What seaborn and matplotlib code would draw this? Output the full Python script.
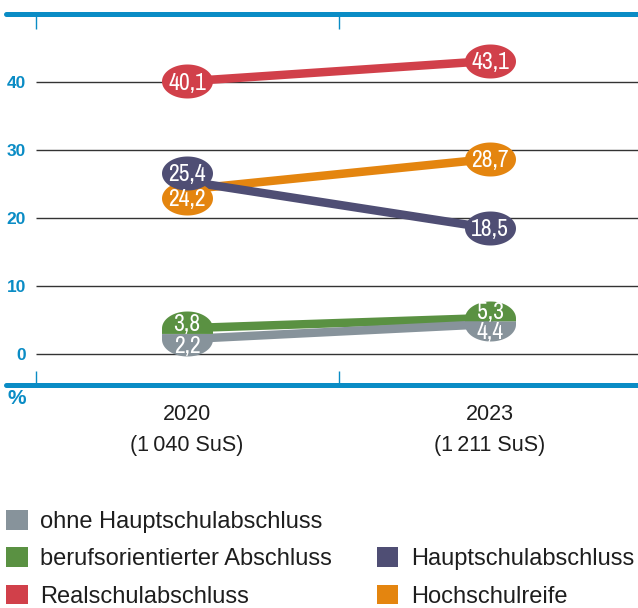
import numpy as np
import pandas as pd
import matplotlib
matplotlib.use("Agg")
import matplotlib.pyplot as plt
import seaborn as sns
from matplotlib.path import Path
from matplotlib.patches import Patch
from matplotlib.transforms import offset_copy, blended_transform_factory
from matplotlib import font_manager as fm

# ---------------- data ----------------
years = ["2020", "2023"]
sus_labels = ["(1\u2009040 SuS)", "(1\u2009211 SuS)"]
categories = ["ohne Hauptschulabschluss", "berufsorientierter Abschluss",
              "Hauptschulabschluss", "Realschulabschluss", "Hochschulreife"]
ohne_hs = [2.2, 4.4]
berufsorientiert = [3.8, 5.3]
hauptschule = [25.4, 18.5]
realschule = [40.1, 43.1]
hochschulreife = [24.2, 28.7]
y_ticks = [0, 10, 20, 30, 40]

values = {
    "ohne Hauptschulabschluss": ohne_hs,
    "berufsorientierter Abschluss": berufsorientiert,
    "Hauptschulabschluss": hauptschule,
    "Realschulabschluss": realschule,
    "Hochschulreife": hochschulreife,
}
colors = {
    "ohne Hauptschulabschluss": "#87939b",
    "berufsorientierter Abschluss": "#5a9142",
    "Hauptschulabschluss": "#4f4e74",
    "Realschulabschluss": "#d1404a",
    "Hochschulreife": "#e4850f",
}
BLUE = "#0a8cc5"

rows = []
for c in categories:
    for i, y in enumerate(years):
        rows.append({"cat": c, "pos": i, "year": y, "value": values[c][i]})
df = pd.DataFrame(rows)

# ---------------- style ----------------
sns.set_style("white")
families = {f.name for f in fm.fontManager.ttflist}
NARROW = "DejaVu Sans"
for cand in ["Archivo Narrow", "Barlow Semi Condensed", "Encode Sans Condensed",
             "Asap Condensed"]:
    if cand in families:
        NARROW = cand
        break
SANS = "Liberation Sans" if "Liberation Sans" in families else "DejaVu Sans"
plt.rcParams["font.family"] = [SANS, "DejaVu Sans"]

W, H = 638, 608
fig = plt.figure(figsize=(W / 100, H / 100), dpi=100)
ax = fig.add_axes([0, 1 - 400 / H, 1, 400 / H])
px_per_unit = 6.8
PT = 0.72  # points per pixel

# lines
hue_order = ["Hochschulreife", "Hauptschulabschluss", "Realschulabschluss",
             "berufsorientierter Abschluss", "ohne Hauptschulabschluss"]
sns.lineplot(data=df, x="pos", y="value", hue="cat", hue_order=hue_order,
             palette=colors, lw=8.5 * PT, legend=False, ax=ax, zorder=3,
             estimator=None, sort=False)
ax.set_xlim(-187 / 303, (W - 187) / 303)
ax.set_ylim((354 - 400) / px_per_unit, 354 / px_per_unit)
ax.set_xlabel("")
ax.set_ylabel("")
for s in ax.spines.values():
    s.set_visible(False)

# frame lines
top_v, bot_v = 50, -4.5
ax.axhline(top_v, xmin=6 / W, color=BLUE, lw=5 * PT, zorder=1)
ax.axhline(bot_v, xmin=6 / W, color=BLUE, lw=5 * PT, zorder=1)
bounds = [-0.5, 0.5, 1.5]
ax.vlines(bounds, top_v - 15 / px_per_unit, top_v, color=BLUE, lw=1.0, zorder=1)
ax.vlines(bounds, bot_v, bot_v + 14 / px_per_unit, color=BLUE, lw=1.0, zorder=1)
ax.hlines(y_ticks, -0.5, ax.get_xlim()[1], color="#333333", lw=1.0, zorder=1)

# y ticks
ax.set_yticks(y_ticks)
ax.set_yticklabels([str(t) for t in y_ticks])
ax.tick_params(axis="y", length=0, pad=-26 * PT, labelsize=12.5, labelcolor=BLUE)
for lab in ax.get_yticklabels():
    lab.set_fontweight("bold")
    lab.set_horizontalalignment("right")
ax.set_xticks([])

# ---------------- label ellipses ----------------
EW, EH = 51.0, 34.0
ry = (EH / 2) / EW
t_full = np.linspace(0, 2 * np.pi, 121)
t_top = np.linspace(0, np.pi, 61)
t_bot = np.linspace(np.pi, 2 * np.pi, 61)


def full_ellipse():
    v = np.column_stack([0.5 * np.cos(t_full), ry * np.sin(t_full)])
    return Path(v, closed=True)


def top_half(ext):
    arc = np.column_stack([0.5 * np.cos(t_top), ry * np.sin(t_top)])
    v = np.vstack([arc, [[-0.5, -ext], [0.5, -ext], [0.5, 0]]])
    return Path(v, closed=True)


def bottom_half(ext):
    arc = np.column_stack([0.5 * np.cos(t_bot), ry * np.sin(t_bot)])
    v = np.vstack([arc, [[0.5, ext], [-0.5, ext], [-0.5, 0]]])
    return Path(v, closed=True)


S = (EW * PT) ** 2
NUM_FS = 17
cap_off = -0.35 * NUM_FS


def fmt(v):
    return f"{v:.1f}".replace(".", ",")


def put_label(x, y, marker, color, dy_marker_px, dy_text_px):
    tr = offset_copy(ax.transData, fig=fig, x=0, y=dy_marker_px * PT, units="points")
    ax.scatter([x], [y], s=S, marker=marker, color=color, linewidths=0,
               transform=tr, zorder=5)
    trt = offset_copy(ax.transData, fig=fig, x=0, y=dy_text_px * PT + cap_off,
                      units="points")
    ax.text(x, y, fmt(y), transform=trt, ha="center", va="baseline",
            color="white", fontsize=NUM_FS, fontweight="bold",
            family=[NARROW, "DejaVu Sans"], zorder=6)


split_pair = ("berufsorientierter Abschluss", "ohne Hauptschulabschluss")
for i in range(len(years)):
    up_c, lo_c = split_pair
    vu, vl = values[up_c][i], values[lo_c][i]
    gap_px = (vu - vl) * px_per_unit
    ext = (gap_px / 2) / EW
    txt_shift = (EH / 2 - gap_px / 2) / 2
    put_label(i, vu, top_half(ext), colors[up_c], 0, txt_shift)
    put_label(i, vl, bottom_half(ext), colors[lo_c], 0, -txt_shift)

    rest = ["Hochschulreife", "Hauptschulabschluss", "Realschulabschluss"]
    rest_sorted = sorted(rest, key=lambda c: values[c][i])
    done = set()
    for a, b in zip(rest_sorted[:-1], rest_sorted[1:]):
        va_, vb_ = values[a][i], values[b][i]
        if (vb_ - va_) * px_per_unit < 25:
            mid = (va_ + vb_) / 2
            for c, sgn in ((a, -1), (b, 1)):
                d = (mid - values[c][i]) * px_per_unit + sgn * 12.5
                put_label(i, values[c][i], full_ellipse(), colors[c], d, d)
            done.update([a, b])
    for c in rest:
        if c not in done:
            put_label(i, values[c][i], full_ellipse(), colors[c], 0, 0)

# ---------------- category labels ----------------
bt = blended_transform_factory(ax.transData, fig.transFigure)
for i, (y, s) in enumerate(zip(years, sus_labels)):
    ax.text(i, 1 - 414 / H, y, transform=bt, ha="center", va="center",
            fontsize=15.5, color="#1e1e1e")
    ax.text(i, 1 - 446 / H, s, transform=bt, ha="center", va="center",
            fontsize=15.5, color="#1e1e1e")

fig.text(17 / W, 1 - 399 / H, "%", ha="center", va="center", fontsize=15,
         fontweight="bold", color=BLUE)

# ---------------- legend ----------------
leg_order = ["ohne Hauptschulabschluss", "berufsorientierter Abschluss",
             "Realschulabschluss", None, "Hauptschulabschluss", "Hochschulreife"]
handles, labels = [], []
for c in leg_order:
    if c is None:
        handles.append(Patch(facecolor="none", edgecolor="none"))
        labels.append("")
    else:
        handles.append(Patch(facecolor=colors[c], edgecolor="none"))
        labels.append(c)
fig.legend(handles, labels, ncol=2, loc="upper left",
           bbox_to_anchor=(6 / W, 1 - 510 / H), frameon=False,
           fontsize=17, handlelength=0.92, handleheight=0.92,
           handletextpad=0.52, labelspacing=0.6, columnspacing=1.9,
           borderpad=0, borderaxespad=0, labelcolor="#1e1e1e")

fig.savefig("out.png", dpi=100)
